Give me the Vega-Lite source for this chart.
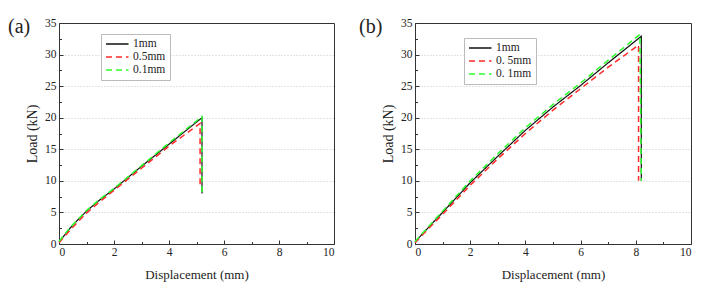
{
  "$schema": "https://vega.github.io/schema/vega-lite/v6.json",
  "background": "white",
  "padding": {"left": 7, "top": 16, "right": 5, "bottom": 5},
  "spacing": 23,
  "config": {
    "font": "Liberation Serif",
    "view": {"stroke": "#333", "strokeWidth": 1},
    "axis": {
      "domainColor": "#333",
      "tickColor": "#333",
      "labelFont": "Liberation Serif",
      "labelFontSize": 11.5,
      "labelColor": "#222",
      "titleFont": "Liberation Serif",
      "titleFontSize": 14,
      "titleFontWeight": "normal",
      "titleColor": "#222",
      "gridColor": "#c8c8c8",
      "gridDash": [1, 2],
      "tickSize": -4
    },
    "legend": {
      "labelFont": "Liberation Serif",
      "labelFontSize": 11.5,
      "labelColor": "#222",
      "labelOffset": 16,
      "strokeColor": "#bbb",
      "fillColor": "white",
      "padding": 4,
      "rowPadding": 1,
      "symbolType": "M-1,0H3.5",
      "symbolStrokeWidth": 1.5,
      "symbolSize": 100
    },
    "title": {"font": "Liberation Serif", "fontSize": 20, "fontWeight": "normal", "color": "#222"}
  },
  "datasets": {
    "a": [
      {"s": "1mm", "i": 0, "d": 0, "f": 0.3},
      {"s": "1mm", "i": 1, "d": 0.2, "f": 1.4},
      {"s": "1mm", "i": 2, "d": 0.4, "f": 2.5},
      {"s": "1mm", "i": 3, "d": 0.7, "f": 3.9},
      {"s": "1mm", "i": 4, "d": 1.0, "f": 5.2},
      {"s": "1mm", "i": 5, "d": 1.4, "f": 6.7},
      {"s": "1mm", "i": 6, "d": 2.0, "f": 8.7},
      {"s": "1mm", "i": 7, "d": 3.0, "f": 12.3},
      {"s": "1mm", "i": 8, "d": 4.0, "f": 15.8},
      {"s": "1mm", "i": 9, "d": 5.2, "f": 20.0},
      {"s": "1mm", "i": 10, "d": 5.2, "f": 8.0},
      {"s": "0.5mm", "i": 0, "d": 0, "f": 0.2},
      {"s": "0.5mm", "i": 1, "d": 0.4, "f": 2.2},
      {"s": "0.5mm", "i": 2, "d": 1.0, "f": 4.9},
      {"s": "0.5mm", "i": 3, "d": 1.4, "f": 6.4},
      {"s": "0.5mm", "i": 4, "d": 2.0, "f": 8.5},
      {"s": "0.5mm", "i": 5, "d": 3.0, "f": 12.0},
      {"s": "0.5mm", "i": 6, "d": 4.0, "f": 15.5},
      {"s": "0.5mm", "i": 7, "d": 5.13, "f": 19.1},
      {"s": "0.5mm", "i": 8, "d": 5.13, "f": 9.1},
      {"s": "0.1mm", "i": 0, "d": 0, "f": 0.4},
      {"s": "0.1mm", "i": 1, "d": 0.4, "f": 2.6},
      {"s": "0.1mm", "i": 2, "d": 1.0, "f": 5.3},
      {"s": "0.1mm", "i": 3, "d": 1.4, "f": 6.8},
      {"s": "0.1mm", "i": 4, "d": 2.0, "f": 8.8},
      {"s": "0.1mm", "i": 5, "d": 3.0, "f": 12.4},
      {"s": "0.1mm", "i": 6, "d": 4.0, "f": 16.0},
      {"s": "0.1mm", "i": 7, "d": 5.2, "f": 20.2},
      {"s": "0.1mm", "i": 8, "d": 5.2, "f": 8.0}
    ],
    "b": [
      {"s": "1mm", "i": 0, "d": 0, "f": 0.3},
      {"s": "1mm", "i": 1, "d": 0.5, "f": 2.7},
      {"s": "1mm", "i": 2, "d": 1.0, "f": 5.0},
      {"s": "1mm", "i": 3, "d": 2.0, "f": 9.7},
      {"s": "1mm", "i": 4, "d": 3.0, "f": 13.9},
      {"s": "1mm", "i": 5, "d": 4.0, "f": 18.0},
      {"s": "1mm", "i": 6, "d": 5.0, "f": 21.7},
      {"s": "1mm", "i": 7, "d": 6.0, "f": 25.1},
      {"s": "1mm", "i": 8, "d": 7.0, "f": 28.7},
      {"s": "1mm", "i": 9, "d": 8.2, "f": 32.9},
      {"s": "1mm", "i": 10, "d": 8.2, "f": 10.0},
      {"s": "0. 5mm", "i": 0, "d": 0, "f": 0.2},
      {"s": "0. 5mm", "i": 1, "d": 0.5, "f": 2.5},
      {"s": "0. 5mm", "i": 2, "d": 1.0, "f": 4.7},
      {"s": "0. 5mm", "i": 3, "d": 2.0, "f": 9.3},
      {"s": "0. 5mm", "i": 4, "d": 3.0, "f": 13.5},
      {"s": "0. 5mm", "i": 5, "d": 4.0, "f": 17.5},
      {"s": "0. 5mm", "i": 6, "d": 5.0, "f": 21.2},
      {"s": "0. 5mm", "i": 7, "d": 6.0, "f": 24.6},
      {"s": "0. 5mm", "i": 8, "d": 7.0, "f": 28.0},
      {"s": "0. 5mm", "i": 9, "d": 8.1, "f": 31.5},
      {"s": "0. 5mm", "i": 10, "d": 8.1, "f": 10.0},
      {"s": "0. 1mm", "i": 0, "d": 0, "f": 0.4},
      {"s": "0. 1mm", "i": 1, "d": 0.5, "f": 2.8},
      {"s": "0. 1mm", "i": 2, "d": 1.0, "f": 5.2},
      {"s": "0. 1mm", "i": 3, "d": 2.0, "f": 10.0},
      {"s": "0. 1mm", "i": 4, "d": 3.0, "f": 14.3},
      {"s": "0. 1mm", "i": 5, "d": 4.0, "f": 18.4},
      {"s": "0. 1mm", "i": 6, "d": 5.0, "f": 22.1},
      {"s": "0. 1mm", "i": 7, "d": 6.0, "f": 25.5},
      {"s": "0. 1mm", "i": 8, "d": 7.0, "f": 29.1},
      {"s": "0. 1mm", "i": 9, "d": 8.15, "f": 33.2},
      {"s": "0. 1mm", "i": 10, "d": 8.2, "f": 10.0}
    ]
  },
  "resolve": {"scale": {"color": "independent", "strokeDash": "independent"}, "legend": {"color": "independent", "strokeDash": "independent"}},
  "hconcat": [
    {
      "width": 275,
      "height": 221,
      "data": {"name": "a"},
      "title": {"text": "(a)", "anchor": "start", "frame": "group", "orient": "top", "offset": -20, "dx": -51},
      "layer": [
        {
          "transform": [{"filter": "datum.s == '1mm'"}],
          "mark": {"type": "line", "strokeWidth": 1.2},
          "encoding": {
            "x": {"field": "d", "type": "quantitative", "scale": {"domain": [0, 10], "nice": false},
                  "axis": {"title": "Displacement (mm)", "values": [0, 2, 4, 6, 8, 10], "grid": false, "labelPadding": 6, "titlePadding": 11, "titleFontSize": 13}},
            "y": {"field": "f", "type": "quantitative", "scale": {"domain": [0, 35], "nice": false},
                  "axis": {"title": "Load (kN)", "values": [0, 5, 10, 15, 20, 25, 30, 35], "grid": true, "labelPadding": 7, "titlePadding": 5,
                           "gridOpacity": {"condition": {"test": "datum.value >= 35 || datum.value <= 0", "value": 0}, "value": 1}}},
            "color": {"field": "s", "type": "nominal", "scale": {"domain": ["1mm", "0.5mm", "0.1mm"], "range": ["#111111", "#ff2a2a", "#2aff2a"]},
                      "legend": {"title": null, "orient": "none", "legendX": 42, "legendY": 11}},
            "strokeDash": {"field": "s", "type": "nominal", "scale": {"domain": ["1mm", "0.5mm", "0.1mm"], "range": [[1, 0], [6, 4], [6, 4]]},
                      "legend": {"title": null, "orient": "none", "legendX": 42, "legendY": 11}},
            "order": {"field": "i", "type": "quantitative"}
          }
        },
        {
          "transform": [{"filter": "datum.s != '1mm'"}],
          "mark": {"type": "line", "strokeWidth": 1.5},
          "encoding": {
            "x": {"field": "d", "type": "quantitative", "scale": {"domain": [0, 10], "nice": false},
                  "axis": {"orient": "bottom", "title": null, "values": [1, 3, 5, 7, 9], "labels": false, "domain": false, "grid": false, "tickSize": -2.5}},
            "y": {"field": "f", "type": "quantitative", "scale": {"domain": [0, 35], "nice": false},
                  "axis": {"orient": "left", "title": null, "values": [2.5, 7.5, 12.5, 17.5, 22.5, 27.5, 32.5], "labels": false, "domain": false, "grid": false, "tickSize": -2.5}},
            "color": {"field": "s", "type": "nominal", "scale": {"domain": ["1mm", "0.5mm", "0.1mm"], "range": ["#111111", "#ff2a2a", "#2aff2a"]}},
            "strokeDash": {"field": "s", "type": "nominal", "scale": {"domain": ["1mm", "0.5mm", "0.1mm"], "range": [[1, 0], [6, 4], [6, 4]]}},
            "order": {"field": "i", "type": "quantitative"}
          }
        }
      ],
      "resolve": {"axis": {"x": "independent", "y": "independent"}}
    },
    {
      "width": 276,
      "height": 221,
      "data": {"name": "b"},
      "title": {"text": "(b)", "anchor": "start", "frame": "group", "orient": "top", "offset": -20, "dx": -56},
      "layer": [
        {
          "transform": [{"filter": "datum.s == '1mm'"}],
          "mark": {"type": "line", "strokeWidth": 1.2},
          "encoding": {
            "x": {"field": "d", "type": "quantitative", "scale": {"domain": [0, 10], "nice": false},
                  "axis": {"title": "Displacement (mm)", "values": [0, 2, 4, 6, 8, 10], "grid": false, "labelPadding": 6, "titlePadding": 11, "titleFontSize": 13}},
            "y": {"field": "f", "type": "quantitative", "scale": {"domain": [0, 35], "nice": false},
                  "axis": {"title": "Load (kN)", "values": [0, 5, 10, 15, 20, 25, 30, 35], "grid": true, "labelPadding": 7, "titlePadding": 5,
                           "gridOpacity": {"condition": {"test": "datum.value >= 35 || datum.value <= 0", "value": 0}, "value": 1}}},
            "color": {"field": "s", "type": "nominal", "scale": {"domain": ["1mm", "0. 5mm", "0. 1mm"], "range": ["#111111", "#ff2a2a", "#2aff2a"]},
                      "legend": {"title": null, "orient": "none", "legendX": 49, "legendY": 15}},
            "strokeDash": {"field": "s", "type": "nominal", "scale": {"domain": ["1mm", "0. 5mm", "0. 1mm"], "range": [[1, 0], [6, 4], [6, 4]]},
                      "legend": {"title": null, "orient": "none", "legendX": 49, "legendY": 15}},
            "order": {"field": "i", "type": "quantitative"}
          }
        },
        {
          "transform": [{"filter": "datum.s != '1mm'"}],
          "mark": {"type": "line", "strokeWidth": 1.5},
          "encoding": {
            "x": {"field": "d", "type": "quantitative", "scale": {"domain": [0, 10], "nice": false},
                  "axis": {"orient": "bottom", "title": null, "values": [1, 3, 5, 7, 9], "labels": false, "domain": false, "grid": false, "tickSize": -2.5}},
            "y": {"field": "f", "type": "quantitative", "scale": {"domain": [0, 35], "nice": false},
                  "axis": {"orient": "left", "title": null, "values": [2.5, 7.5, 12.5, 17.5, 22.5, 27.5, 32.5], "labels": false, "domain": false, "grid": false, "tickSize": -2.5}},
            "color": {"field": "s", "type": "nominal", "scale": {"domain": ["1mm", "0. 5mm", "0. 1mm"], "range": ["#111111", "#ff2a2a", "#2aff2a"]}},
            "strokeDash": {"field": "s", "type": "nominal", "scale": {"domain": ["1mm", "0. 5mm", "0. 1mm"], "range": [[1, 0], [6, 4], [6, 4]]}},
            "order": {"field": "i", "type": "quantitative"}
          }
        }
      ],
      "resolve": {"axis": {"x": "independent", "y": "independent"}}
    }
  ]
}
